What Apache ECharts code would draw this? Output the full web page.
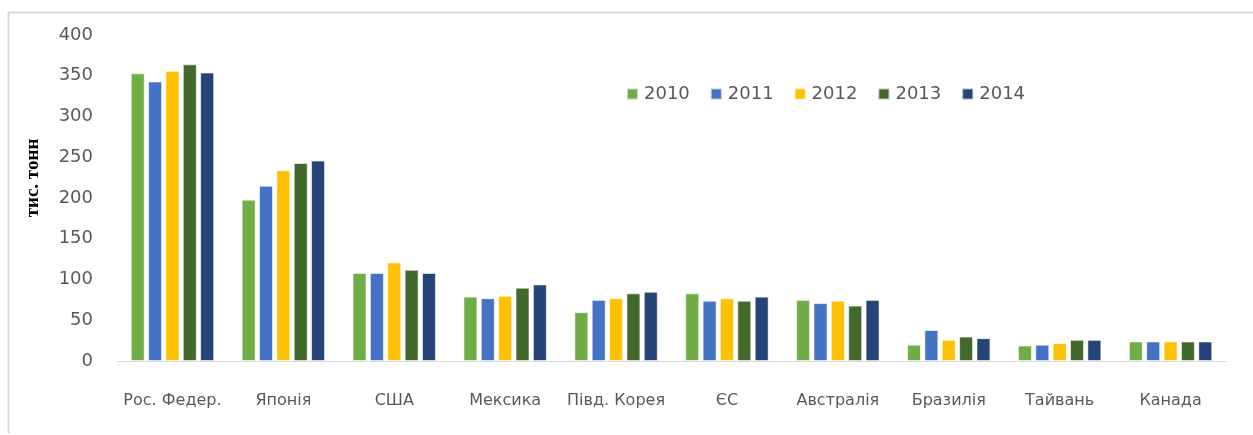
<!DOCTYPE html>
<html>
<head>
<meta charset="utf-8">
<script src="https://cdn.jsdelivr.net/npm/echarts@6/dist/echarts.min.js"></script>
<style>
  html, body { margin: 0; padding: 0; background: #fff; }
  #info { width: 1253px; height: 435px; }
</style>
</head>
<body>
<div id="info"></div>
<script>
// країни
var countries = ['Рос. Федер.', 'Японія', 'США', 'Мексика', 'Півд. Корея', 'ЄС', 'Австралія', 'Бразилія', 'Тайвань', 'Канада'];
var years = ['2010', '2011', '2012', '2013', '2014'];
var colors = ['#70AD47', '#4472C4', '#FFC000', '#43682B', '#264478'];

// тис. тонн
var y2010 = [353, 198, 108, 79, 60, 83, 75, 20, 19, 24];
var y2011 = [343, 215, 108, 77, 75, 74, 71, 38, 20, 24];
var y2012 = [356, 234, 121, 80, 77, 77, 74, 26, 22, 24];
var y2013 = [364, 243, 112, 90, 83, 74, 68, 30, 26, 24];
var y2014 = [354, 246, 108, 94, 85, 79, 75, 28, 26, 24];
var yTicks = [0, 50, 100, 150, 200, 250, 300, 350, 400];

var seriesData = [y2010, y2011, y2012, y2013, y2014];

var myChart = echarts.init(document.getElementById('info'));

var series = [];
for (var i = 0; i < years.length; i++) {
    series.push({
        name: years[i],
        type: 'bar',
        barWidth: 14,
        barGap: '24%',
        itemStyle: {
            color: colors[i],
            borderColor: 'rgba(255,255,255,0.6)',
            borderWidth: 1
        },
        data: seriesData[i]
    });
}

var option = {
    animation: false,
    color: colors,
    graphic: [
        {
            type: 'polyline',
            shape: { points: [[8.5, 433], [8.5, 12.5], [1253, 12.5]] },
            style: { stroke: '#d9d9d9', fill: null, lineWidth: 2 }
        },
        {
            // назва осі Y
            type: 'text',
            x: 33,
            y: 178,
            rotation: Math.PI / 2,
            style: {
                text: 'тис. тонн',
                fontFamily: 'Liberation Serif',
                fontWeight: 'bold',
                fontSize: 19,
                fill: '#000',
                align: 'center',
                verticalAlign: 'middle'
            }
        }
    ],
    grid: {
        left: 117,
        right: 27,
        top: 35,
        bottom: 74
    },
    legend: {
        data: years,
        left: 626,
        top: 85,
        padding: 0,
        itemWidth: 11,
        itemHeight: 11,
        itemGap: 20,
        icon: 'rect',
        textStyle: {
            fontFamily: 'DejaVu Sans',
            fontSize: 18,
            color: '#595959',
            padding: [0, 0, 0, 1]
        }
    },
    xAxis: {
        type: 'category',
        data: countries,
        axisLine: { lineStyle: { color: '#d9d9d9', width: 1 } },
        axisTick: { show: false },
        axisLabel: {
            interval: 0,
            margin: 32,
            fontFamily: 'DejaVu Sans',
            fontSize: 16,
            color: '#595959'
        }
    },
    yAxis: {
        type: 'value',
        min: 0,
        max: 400,
        interval: 50,
        axisLine: { show: false },
        axisTick: { show: false },
        splitLine: { show: false },
        axisLabel: {
            margin: 24,
            fontFamily: 'DejaVu Sans',
            fontSize: 18,
            color: '#595959',
            customValues: yTicks
        }
    },
    series: series
};

myChart.setOption(option);
</script>
</body>
</html>
